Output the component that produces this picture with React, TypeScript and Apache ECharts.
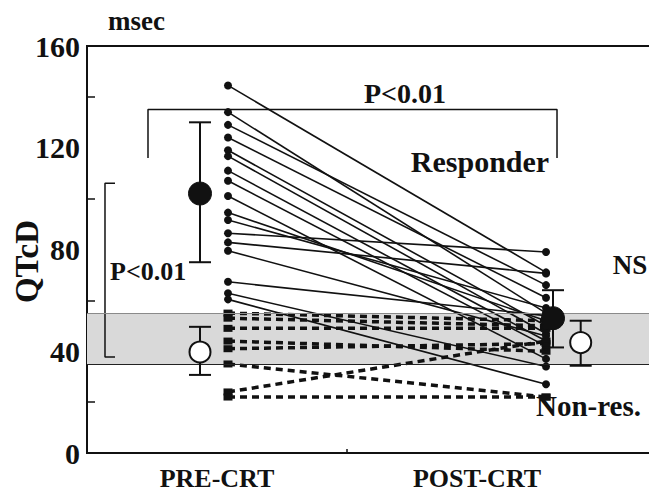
import React, { useEffect, useRef } from "react";
import * as echarts from "echarts";

// x positions (axis units: category label centres at 0.5 and 1.5)
const X_PRE = 0.5423;
const X_POST = 1.7654;
const X_MEAN_PRE = 0.4346;
const X_MEAN_POST_R = 1.7923;
const X_MEAN_POST_NR = 1.8988;
const X_MAX = 2.2115;

const categories = ["PRE-CRT", "POST-CRT"];
const categoryPositions = [0.5, 1.5];
const yTickLabels = [0, 40, 80, 120, 160];
const yMinorTicks = [20, 60, 100, 140];

// Responders (solid lines)
const responderPre = [144.5, 134, 129, 124, 119, 116.7, 111, 107, 101, 94.5, 91.6, 86.4, 82.8, 79.5, 67.3, 62.8, 60.4];
const responderPost = [71, 55, 66, 61, 50, 47, 44, 42, 37, 52, 57, 79, 70.6, 46, 54, 34, 27];

// Non-responders (dashed lines)
const nonresPre = [55, 53, 49, 44, 41, 35, 24, 22];
const nonresPost = [52, 50, 49, 40, 43, 22, 44, 22];

// Mean ± SD  [mean, low, high]
const meanPreResp = [102, 75, 130];
const meanPreNonres = [39.7, 30.7, 49.6];
const meanPostResp = [53, 41.5, 64];
const meanPostNonres = [43.4, 34.3, 52];

// Normal range band
const bandRange = [35, 55];

// Brackets
const topBracket = [[0.2346, 116], [0.2346, 135], [1.8077, 135], [1.8077, 116]];
const leftBracket = [[0.1077, 106], [0.0692, 106], [0.0692, 37.7], [0.1077, 37.7]];

const FONT = "'Liberation Serif', 'Times New Roman', serif";
const INK = "#111";

export default function App() {
  const ref = useRef<HTMLDivElement>(null);
  useEffect(() => {
    if (!ref.current) return;
    const chart = echarts.init(ref.current, null, { renderer: "svg" });

    const series: any[] = [];

    series.push({
      type: "line",
      data: [],
      silent: true,
      z: 0,
      markArea: {
        silent: true,
        itemStyle: { color: "#d9d9d9", opacity: 1 },
        data: [[{ yAxis: bandRange[0] }, { yAxis: bandRange[1] }]],
      },
      markLine: {
        silent: true,
        symbol: "none",
        label: { show: false },
        data: [
          { yAxis: bandRange[1], lineStyle: { color: "#8a8a8a", width: 1, type: "solid" } },
          { yAxis: bandRange[0], lineStyle: { color: "#222", width: 1.2, type: "solid" } },
        ],
      },
    });

    nonresPre.forEach((v, i) => {
      series.push({
        type: "line",
        data: [[X_PRE, v], [X_POST, nonresPost[i]]],
        symbol: "rect",
        symbolSize: [9, 7],
        itemStyle: { color: INK, opacity: 1 },
        lineStyle: { color: INK, width: 3.5, type: [7, 5] },
        z: 3,
      });
    });

    responderPre.forEach((v, i) => {
      series.push({
        type: "line",
        data: [[X_PRE, v], [X_POST, responderPost[i]]],
        symbol: "circle",
        symbolSize: 8,
        itemStyle: { color: INK, opacity: 1 },
        lineStyle: { color: INK, width: 1.6 },
        z: 4,
      });
    });

    [topBracket, leftBracket].forEach((b) =>
      series.push({
        type: "line",
        data: b,
        symbol: "none",
        lineStyle: { color: INK, width: 1.5 },
        z: 2,
      })
    );

    const errData = [
      [X_MEAN_PRE, meanPreResp[1], meanPreResp[2]],
      [X_MEAN_PRE, meanPreNonres[1], meanPreNonres[2]],
      [X_MEAN_POST_R, meanPostResp[1], meanPostResp[2]],
      [X_MEAN_POST_NR, meanPostNonres[1], meanPostNonres[2]],
    ];
    series.push({
      type: "custom",
      z: 5,
      renderItem: (params: any, api: any) => {
        const x = api.value(0);
        const lo = api.coord([x, api.value(1)]);
        const hi = api.coord([x, api.value(2)]);
        const w = 11;
        const style = { stroke: INK, lineWidth: 2 };
        return {
          type: "group",
          children: [
            { type: "line", shape: { x1: lo[0], y1: lo[1], x2: hi[0], y2: hi[1] }, style },
            { type: "line", shape: { x1: lo[0] - w, y1: lo[1], x2: lo[0] + w, y2: lo[1] }, style },
            { type: "line", shape: { x1: hi[0] - w, y1: hi[1], x2: hi[0] + w, y2: hi[1] }, style },
          ],
        };
      },
      data: errData,
    });

    series.push({
      type: "scatter",
      z: 6,
      symbolSize: 23,
      itemStyle: { color: INK, borderColor: INK, borderWidth: 1, opacity: 1 },
      data: [[X_MEAN_PRE, meanPreResp[0]], [X_MEAN_POST_R, meanPostResp[0]]],
    });
    series.push({
      type: "scatter",
      z: 6,
      symbolSize: 21,
      itemStyle: { color: "#fff", borderColor: INK, borderWidth: 2, opacity: 1 },
      data: [[X_MEAN_PRE, meanPreNonres[0]], [X_MEAN_POST_NR, meanPostNonres[0]]],
    });

    const txt = (text: string, x: number, y: number, size: number, align = "center") => ({
      type: "text",
      x,
      y,
      style: {
        text,
        font: `bold ${size}px ${FONT}`,
        fill: INK,
        textAlign: align,
        textVerticalAlign: "middle",
      },
      z: 10,
    });

    chart.setOption({
      animation: false,
      grid: {
        left: 87,
        right: -5,
        top: 46,
        bottom: 44,
        outerBoundsMode: "none",
        containLabel: false,
        show: true,
        borderColor: INK,
        borderWidth: 2,
        backgroundColor: "transparent",
      },
      xAxis: {
        type: "value",
        min: 0,
        max: X_MAX,
        splitLine: { show: false },
        axisLine: { show: true, lineStyle: { color: INK, width: 2 } },
        axisTick: { show: true, inside: true, length: 4, customValues: [1], lineStyle: { color: INK, width: 1.5 } },
        axisLabel: {
          customValues: categoryPositions,
          formatter: (v: number) => categories[categoryPositions.indexOf(v)] ?? "",
          fontFamily: FONT,
          fontWeight: "bold",
          fontSize: 26,
          color: INK,
          margin: 12,
        },
      },
      yAxis: {
        type: "value",
        min: 0,
        max: 160,
        interval: 20,
        name: "QTcD",
        nameLocation: "middle",
        nameGap: 44,
        nameMoveOverlap: false,
        nameTextStyle: { fontFamily: FONT, fontWeight: "bold", fontSize: 33, color: INK, padding: [0, 24, 0, 0] },
        splitLine: { show: false },
        axisLine: { show: true, lineStyle: { color: INK, width: 2 } },
        axisTick: { show: true, inside: true, length: 8, customValues: yMinorTicks, lineStyle: { color: INK, width: 1.5 } },
        axisLabel: {
          customValues: yTickLabels,
          fontFamily: FONT,
          fontWeight: "bold",
          fontSize: 30,
          color: INK,
          margin: 7,
        },
      },
      graphic: [
        txt("msec", 108, 21, 27, "left"),
        txt("P<0.01", 405, 93, 28),
        txt("Responder", 480, 161, 30),
        txt("NS", 630, 265, 27),
        txt("P<0.01", 110, 271, 26, "left"),
        txt("Non-res.", 536, 406, 29, "left"),
      ],
      series,
    });

    return () => chart.dispose();
  }, []);

  return <div ref={ref} style={{ width: 657, height: 497, margin: -8 }} />;
}
